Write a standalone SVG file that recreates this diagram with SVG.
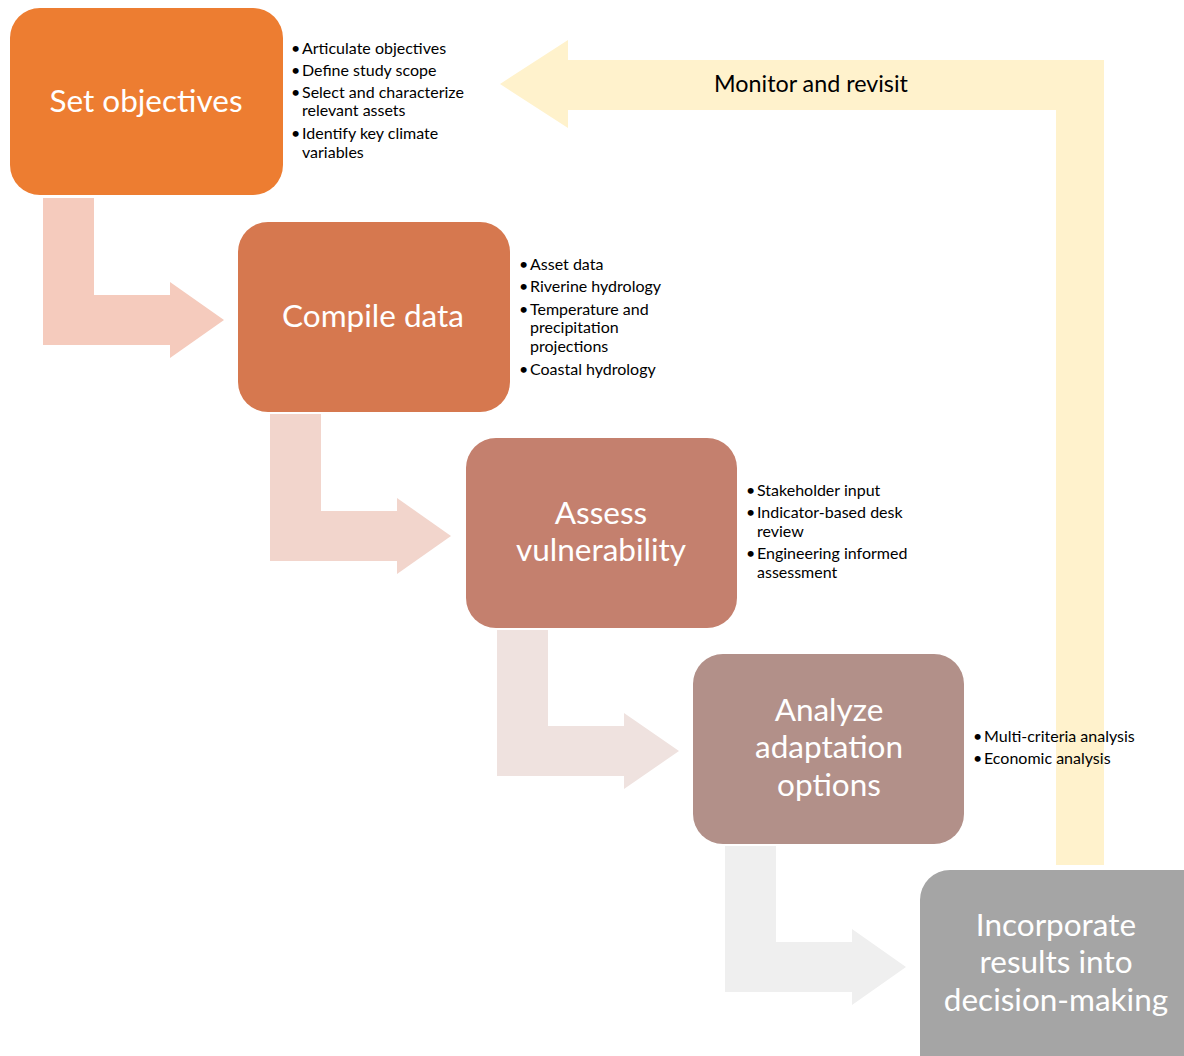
<svg xmlns="http://www.w3.org/2000/svg" width="1184" height="1056" viewBox="0 0 1184 1056">
<style>
.title{font-family:Lato,"Open Sans",sans-serif;font-size:31.5px;fill:#ffffff;text-anchor:middle}
.bul{font-family:Lato,"Open Sans",sans-serif;font-size:16px;fill:#000000}
.lbl{font-family:Lato,"Open Sans",sans-serif;font-size:23.3px;fill:#000000;text-anchor:middle}
</style>
<rect width="1184" height="1056" fill="#ffffff"/>
<g id="connectors">
<path id="loop" d="M1104,60 L1104,865 L1056,865 L1056,110 L568,110 L568,128 L500,84 L568,40 L568,60 Z" fill="#FFF2CC"/>
<path id="a1" d="M43,198 L94,198 L94,295 L170,295 L170,282 L224,320 L170,358 L170,345 L43,345 Z" fill="#F5CBBD"/>
<path id="a2" d="M270,414 L321,414 L321,511 L397,511 L397,498 L451,536 L397,574 L397,561 L270,561 Z" fill="#F2D5CC"/>
<path id="a3" d="M497,630 L548,630 L548,726 L624,726 L624,713 L679,751 L624,789 L624,776 L497,776 Z" fill="#EFE2DF"/>
<path id="a4" d="M725,846 L776,846 L776,942 L852,942 L852,929 L906,967 L852,1005 L852,992 L725,992 Z" fill="#EFEFEF"/>
<text class="lbl" x="811" y="92">Monitor and revisit</text>
</g>
<g id="n1">
<rect x="10" y="8" width="273" height="187" rx="30" fill="#ED7D31"/>
<text class="title" x="146" y="112">Set objectives</text>
<text class="bul" x="291" y="54">•<tspan x="302">Articulate objectives</tspan></text>
<text class="bul" x="291" y="76">•<tspan x="302">Define study scope</tspan></text>
<text class="bul" x="291" y="98">•<tspan x="302">Select and characterize</tspan></text>
<text class="bul" x="302" y="116">relevant assets</text>
<text class="bul" x="291" y="139">•<tspan x="302">Identify key climate</tspan></text>
<text class="bul" x="302" y="158">variables</text>
</g>
<g id="n2">
<rect x="238" y="222" width="272" height="190" rx="30" fill="#D6784F"/>
<text class="title" x="373" y="327">Compile data</text>
<text class="bul" x="519" y="270">•<tspan x="530">Asset data</tspan></text>
<text class="bul" x="519" y="292">•<tspan x="530">Riverine hydrology</tspan></text>
<text class="bul" x="519" y="315">•<tspan x="530">Temperature and</tspan></text>
<text class="bul" x="530" y="333">precipitation</text>
<text class="bul" x="530" y="352">projections</text>
<text class="bul" x="519" y="375">•<tspan x="530">Coastal hydrology</tspan></text>
</g>
<g id="n3">
<rect x="466" y="438" width="271" height="190" rx="30" fill="#C4806E"/>
<text class="title" x="601" y="524">Assess</text>
<text class="title" x="601" y="561">vulnerability</text>
<text class="bul" x="746" y="496">•<tspan x="757">Stakeholder input</tspan></text>
<text class="bul" x="746" y="518">•<tspan x="757">Indicator-based desk</tspan></text>
<text class="bul" x="757" y="537">review</text>
<text class="bul" x="746" y="559">•<tspan x="757">Engineering informed</tspan></text>
<text class="bul" x="757" y="578">assessment</text>
</g>
<g id="n4">
<rect x="693" y="654" width="271" height="190" rx="30" fill="#B29089"/>
<text class="title" x="829" y="721">Analyze</text>
<text class="title" x="829" y="758">adaptation</text>
<text class="title" x="829" y="796">options</text>
<text class="bul" x="973" y="742">•<tspan x="984">Multi-criteria analysis</tspan></text>
<text class="bul" x="973" y="764">•<tspan x="984">Economic analysis</tspan></text>
</g>
<g id="n5">
<rect x="920" y="870" width="300" height="220" rx="30" fill="#A5A5A5"/>
<text class="title" x="1056" y="936">Incorporate</text>
<text class="title" x="1056" y="973">results into</text>
<text class="title" x="1056" y="1011">decision-making</text>
</g>
</svg>
